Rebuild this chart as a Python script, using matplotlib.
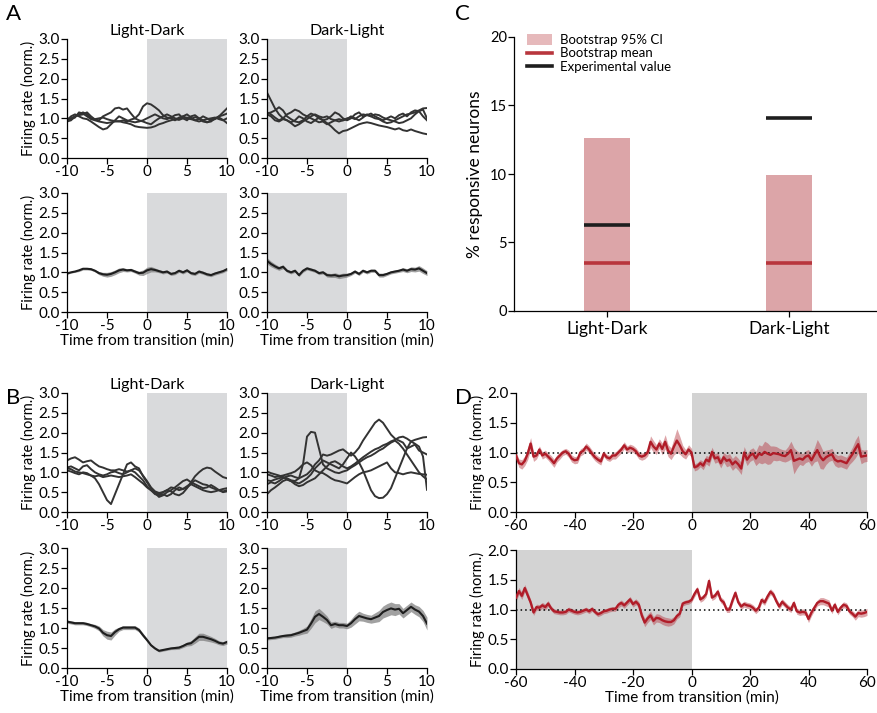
import matplotlib
matplotlib.use("Agg")

import matplotlib.pyplot as plt
import numpy as np
from matplotlib.lines import Line2D
from matplotlib.patches import Patch
from matplotlib.ticker import FormatStrFormatter

plt.rcParams["font.family"] = ["Lato", "DejaVu Sans"]
plt.rcParams["axes.unicode_minus"] = False

# ---------------- data ----------------
t10 = np.arange(-10, 10.01, 0.5)
t60 = np.arange(-60, 61, 1)

# A: single neurons, light-dark (top left)
a_ld_traces = [
    [0.95, 1.00, 1.05, 1.10, 1.15, 1.10, 1.00, 0.98, 1.00, 1.02, 0.98, 0.95, 0.93, 0.92, 0.95, 0.92, 0.97, 1.00, 1.10, 1.30, 1.38,
     1.35, 1.28, 1.20, 1.08, 1.02, 1.00, 0.95, 1.02, 1.05, 1.00, 0.98, 1.03, 1.00, 0.92, 0.90, 0.95, 1.00, 1.02, 0.96, 0.88],
    [0.92, 0.95, 1.05, 1.08, 1.10, 1.15, 1.05, 0.97, 0.95, 1.05, 1.10, 1.15, 1.25, 1.27, 1.22, 1.25, 1.12, 1.00, 0.95, 0.92, 0.88,
     0.85, 0.93, 1.00, 1.05, 1.10, 1.05, 1.00, 0.98, 1.05, 1.10, 1.02, 0.95, 0.98, 1.05, 1.00, 0.95, 0.98, 1.05, 1.15, 1.25],
    [1.00, 0.98, 1.02, 1.15, 1.12, 1.05, 0.98, 0.95, 0.92, 0.90, 0.88, 0.90, 0.92, 0.93, 0.90, 0.88, 0.85, 0.80, 0.78, 0.77, 0.76,
     0.77, 0.80, 0.85, 0.88, 0.92, 0.95, 0.98, 0.96, 1.00, 1.02, 0.98, 0.95, 0.92, 0.95, 0.98, 1.00, 1.02, 0.98, 0.95, 1.00],
    [0.95, 1.05, 1.10, 1.05, 1.00, 0.98, 0.92, 0.85, 0.78, 0.72, 0.75, 0.85, 0.95, 1.05, 1.00, 0.95, 0.92, 0.90, 0.92, 0.95, 1.00,
     1.05, 1.10, 1.05, 1.00, 0.98, 1.02, 1.08, 1.10, 1.00, 0.95, 1.05, 1.08, 1.00, 0.95, 0.90, 0.92, 1.00, 1.05, 1.08, 1.12],
]
# A: single neurons, dark-light (top right)
a_dl_traces = [
    [1.65, 1.45, 1.25, 1.10, 1.00, 0.95, 0.90, 0.95, 1.05, 1.00, 0.92, 0.88, 0.95, 1.02, 0.95, 0.88, 0.80, 0.70, 0.62, 0.68, 0.70,
     0.75, 0.80, 0.85, 0.88, 0.90, 0.88, 0.85, 0.82, 0.80, 0.78, 0.75, 0.72, 0.75, 0.70, 0.68, 0.72, 0.68, 0.65, 0.62, 0.60],
    [1.12, 1.15, 1.20, 1.28, 1.20, 1.05, 0.98, 0.92, 0.90, 0.95, 1.05, 1.12, 1.08, 1.00, 0.95, 0.98, 1.05, 1.15, 1.10, 1.00, 0.95,
     1.00, 1.10, 1.15, 1.05, 1.08, 1.12, 1.05, 1.00, 0.95, 1.00, 1.05, 1.00, 1.08, 1.12, 1.05, 1.15, 1.20, 1.18, 1.05, 0.95],
    [1.15, 1.10, 1.02, 0.95, 1.00, 1.10, 1.15, 1.22, 1.18, 1.10, 1.05, 1.00, 0.95, 0.90, 0.92, 0.85, 0.90, 0.95, 0.98, 0.95, 0.98,
     1.05, 1.00, 0.95, 1.02, 1.10, 1.05, 1.00, 0.98, 0.92, 0.88, 0.90, 0.95, 1.00, 1.05, 1.10, 1.12, 1.15, 1.20, 1.25, 1.26],
    [1.10, 1.05, 0.95, 0.92, 0.98, 0.95, 0.88, 0.80, 0.85, 0.92, 0.98, 1.05, 1.10, 1.05, 1.02, 1.05, 0.98, 0.95, 0.92, 0.95, 1.00,
     1.02, 0.98, 1.05, 1.10, 1.08, 1.05, 1.10, 1.08, 1.02, 0.98, 0.95, 0.92, 0.88, 0.90, 0.95, 1.00, 1.10, 1.18, 1.22, 1.00],
]
# A: population mean +/- sem
a_ld_mean = [0.97, 1.00, 1.02, 1.05, 1.09, 1.09, 1.08, 1.04, 0.98, 0.95, 0.94, 0.96, 1.00, 1.05, 1.07, 1.05, 1.06, 1.02, 0.98,
             0.99, 1.05, 1.08, 1.06, 1.03, 1.00, 1.02, 0.96, 0.98, 1.04, 1.00, 1.05, 0.98, 0.96, 1.02, 0.99, 0.95, 0.93, 0.97,
             1.00, 1.03, 1.08]
a_ld_sem = [0.02, 0.02, 0.02, 0.03, 0.03, 0.03, 0.03, 0.03, 0.04, 0.05, 0.06, 0.06, 0.06, 0.06, 0.05, 0.04, 0.04, 0.04, 0.05,
            0.07, 0.08, 0.07, 0.05, 0.04, 0.04, 0.04, 0.04, 0.04, 0.04, 0.04, 0.04, 0.04, 0.04, 0.04, 0.04, 0.04, 0.04, 0.04,
            0.04, 0.04, 0.04]
a_dl_mean = [1.29, 1.21, 1.15, 1.10, 1.14, 1.04, 1.00, 1.04, 0.93, 1.04, 1.10, 1.07, 1.04, 0.98, 1.00, 0.93, 0.92, 0.93, 0.90,
             0.92, 0.93, 0.96, 1.02, 0.96, 1.04, 1.00, 1.04, 1.04, 0.93, 0.93, 0.96, 1.00, 1.02, 1.04, 1.07, 1.04, 1.08, 1.07,
             1.10, 1.04, 0.98]
a_dl_sem = [0.08, 0.07, 0.06, 0.05, 0.05, 0.04, 0.04, 0.04, 0.04, 0.04, 0.04, 0.04, 0.04, 0.04, 0.04, 0.05, 0.05, 0.06, 0.06,
            0.06, 0.05, 0.04, 0.04, 0.04, 0.04, 0.04, 0.04, 0.04, 0.05, 0.05, 0.04, 0.04, 0.04, 0.04, 0.05, 0.05, 0.06, 0.06,
            0.07, 0.07, 0.06]

# B: single neurons, light-dark
b_ld_traces = [
    [1.10, 1.08, 1.02, 1.00, 0.98, 0.95, 0.92, 0.85, 0.70, 0.50, 0.30, 0.20, 0.45, 0.70, 0.95, 1.20, 1.25, 1.15, 1.10, 0.90, 0.75,
     0.60, 0.48, 0.38, 0.42, 0.50, 0.55, 0.62, 0.70, 0.78, 0.82, 0.75, 0.70, 0.65, 0.60, 0.62, 0.68, 0.62, 0.55, 0.50, 0.52],
    [1.30, 1.35, 1.38, 1.32, 1.25, 1.28, 1.30, 1.22, 1.15, 1.12, 1.08, 1.05, 1.05, 1.08, 1.05, 1.02, 1.05, 1.10, 1.05, 0.92, 0.78,
     0.62, 0.52, 0.48, 0.50, 0.55, 0.52, 0.45, 0.42, 0.48, 0.60, 0.75, 0.90, 1.00, 1.08, 1.12, 1.10, 1.02, 0.95, 0.88, 0.85],
    [1.12, 1.15, 1.10, 1.05, 1.15, 1.18, 1.08, 1.00, 0.95, 0.92, 0.95, 1.00, 1.02, 0.98, 0.95, 1.00, 1.05, 1.00, 0.90, 0.80, 0.65,
     0.55, 0.45, 0.42, 0.45, 0.40, 0.45, 0.55, 0.62, 0.58, 0.62, 0.70, 0.65, 0.60, 0.55, 0.52, 0.50, 0.52, 0.55, 0.58, 0.60],
    [1.05, 1.02, 0.98, 0.95, 1.00, 0.98, 0.92, 0.90, 0.92, 0.88, 0.90, 0.92, 0.90, 0.88, 0.90, 0.92, 0.95, 0.88, 0.80, 0.72, 0.62,
     0.55, 0.48, 0.45, 0.50, 0.55, 0.62, 0.60, 0.55, 0.58, 0.65, 0.72, 0.80, 0.75, 0.70, 0.68, 0.62, 0.58, 0.55, 0.52, 0.55],
]
# B: single neurons, dark-light
b_dl_traces = [
    [0.80, 0.78, 0.82, 0.85, 0.88, 0.85, 0.80, 0.78, 0.85, 1.20, 1.90, 2.02, 2.00, 1.60, 1.20, 1.10, 1.05, 1.00, 0.98, 1.02, 1.05,
     1.12, 1.18, 1.25, 1.32, 1.38, 1.42, 1.48, 1.55, 1.60, 1.68, 1.75, 1.80, 1.72, 1.60, 1.45, 1.30, 1.15, 1.00, 0.90, 0.82],
    [0.70, 0.75, 0.72, 0.78, 0.85, 0.90, 0.92, 0.88, 0.85, 0.90, 0.95, 1.05, 1.20, 1.30, 1.45, 1.42, 1.45, 1.50, 1.55, 1.58, 1.50,
     1.42, 1.50, 1.62, 1.80, 1.95, 2.10, 2.25, 2.33, 2.25, 2.10, 1.95, 1.85, 1.80, 1.75, 1.60, 1.65, 1.70, 1.55, 1.50, 1.45],
    [1.02, 0.98, 0.95, 0.92, 0.88, 0.82, 0.78, 0.75, 0.72, 0.78, 0.85, 0.95, 1.10, 1.20, 1.30, 1.25, 1.20, 1.15, 1.10, 1.20, 1.35,
     1.50, 1.40, 1.25, 1.05, 0.80, 0.55, 0.40, 0.35, 0.36, 0.45, 0.60, 0.85, 1.10, 1.35, 1.60, 1.78, 1.72, 1.65, 1.40, 0.56],
    [0.45, 0.55, 0.62, 0.70, 0.78, 0.82, 0.78, 0.70, 0.65, 0.68, 0.75, 0.80, 0.85, 0.95, 1.05, 1.15, 1.25, 1.28, 1.22, 1.15, 1.10,
     1.15, 1.22, 1.30, 1.38, 1.45, 1.52, 1.58, 1.62, 1.68, 1.72, 1.78, 1.82, 1.88, 1.90, 1.85, 1.78, 1.82, 1.85, 1.88, 1.89],
    [0.95, 0.92, 0.88, 0.90, 0.92, 0.95, 0.98, 1.02, 1.10, 1.20, 1.25, 1.18, 1.05, 1.00, 0.98, 0.92, 0.85, 0.80, 0.78, 0.75, 0.72,
     0.80, 0.88, 0.95, 1.00, 1.02, 1.05, 1.10, 1.15, 1.20, 1.25, 1.10, 1.00, 0.98, 0.95, 0.98, 1.00, 0.98, 0.96, 0.95, 0.94],
]
# B: population mean +/- sem
b_ld_mean = [1.16, 1.14, 1.12, 1.12, 1.12, 1.10, 1.07, 1.04, 0.99, 0.88, 0.82, 0.80, 0.90, 0.97, 1.01, 1.01, 1.01, 1.01, 0.95,
             0.82, 0.70, 0.57, 0.49, 0.43, 0.45, 0.47, 0.49, 0.50, 0.51, 0.55, 0.60, 0.62, 0.70, 0.78, 0.78, 0.75, 0.72, 0.68,
             0.63, 0.61, 0.65]
b_ld_sem = [0.04, 0.04, 0.04, 0.04, 0.04, 0.04, 0.04, 0.05, 0.06, 0.08, 0.10, 0.10, 0.08, 0.05, 0.05, 0.05, 0.05, 0.05, 0.05,
            0.05, 0.04, 0.03, 0.03, 0.03, 0.03, 0.03, 0.03, 0.04, 0.04, 0.04, 0.05, 0.06, 0.08, 0.09, 0.09, 0.08, 0.07, 0.06,
            0.05, 0.05, 0.05]
b_dl_mean = [0.74, 0.75, 0.76, 0.78, 0.80, 0.81, 0.82, 0.85, 0.88, 0.92, 0.96, 1.11, 1.28, 1.35, 1.28, 1.20, 1.07, 1.10, 1.07,
             1.07, 1.05, 1.12, 1.22, 1.30, 1.27, 1.24, 1.22, 1.26, 1.30, 1.40, 1.45, 1.49, 1.46, 1.48, 1.37, 1.45, 1.53, 1.46,
             1.41, 1.30, 1.11]
b_dl_sem = [0.04, 0.04, 0.04, 0.04, 0.04, 0.05, 0.05, 0.05, 0.06, 0.07, 0.09, 0.12, 0.15, 0.14, 0.12, 0.10, 0.08, 0.07, 0.07,
            0.07, 0.07, 0.10, 0.12, 0.12, 0.10, 0.10, 0.10, 0.12, 0.14, 0.15, 0.16, 0.16, 0.15, 0.13, 0.12, 0.12, 0.12, 0.12,
            0.13, 0.14, 0.16]

# C: bootstrap summary
c_groups = ["Light-Dark", "Dark-Light"]
c_ci_top = [12.6, 9.9]
c_boot_mean = [3.5, 3.5]
c_experimental = [6.3, 14.1]

# D: long recordings, 1-min bins
d_ld_mean = [
    0.95, 0.82, 0.80, 0.86, 0.98, 1.15, 0.93, 0.95, 1.05, 0.95,
    0.98, 0.93, 0.88, 0.82, 0.90, 0.95, 1.00, 1.02, 0.98, 0.90,
    0.87, 0.88, 1.00, 1.03, 1.10, 1.05, 0.98, 0.92, 0.88, 0.85,
    0.98, 0.92, 0.90, 0.95, 0.95, 1.00, 1.05, 1.12, 1.05, 1.08,
    1.06, 1.02, 0.95, 0.93, 0.95, 1.00, 1.18, 1.10, 1.05, 1.15,
    1.06, 1.18, 1.03, 0.98, 1.10, 1.20, 1.12, 1.02, 0.97, 1.05,
    1.00,
    0.75, 0.77, 0.82, 0.78, 0.88, 0.85, 1.01, 0.90, 0.92, 0.82,
    0.92, 0.86, 0.88, 0.80, 0.85, 0.80, 0.73, 1.00, 0.88, 0.95,
    0.98, 0.90, 0.98, 0.96, 1.01, 0.98, 0.96, 0.99, 0.98, 0.97,
    0.95, 0.94, 0.98, 1.04, 0.86, 0.88, 0.90, 0.88, 0.93, 0.95,
    0.87, 0.96, 1.04, 0.93, 0.87, 0.92, 0.95, 0.97, 0.88, 0.85,
    0.86, 0.84, 0.82, 0.90, 0.97, 1.06, 1.14, 0.93, 0.94, 0.95,
]
d_ld_sem = [
    0.06, 0.07, 0.08, 0.08, 0.10, 0.10, 0.08, 0.06, 0.06, 0.06,
    0.06, 0.06, 0.07, 0.07, 0.06, 0.06, 0.05, 0.05, 0.06, 0.06,
    0.06, 0.06, 0.06, 0.06, 0.06, 0.06, 0.06, 0.06, 0.06, 0.06,
    0.05, 0.05, 0.05, 0.06, 0.06, 0.06, 0.06, 0.06, 0.06, 0.06,
    0.06, 0.06, 0.06, 0.06, 0.06, 0.06, 0.10, 0.10, 0.08, 0.08,
    0.10, 0.12, 0.10, 0.10, 0.14, 0.20, 0.15, 0.10, 0.08, 0.08,
    0.07,
    0.06, 0.06, 0.06, 0.07, 0.07, 0.08, 0.08, 0.08, 0.08, 0.08,
    0.08, 0.10, 0.10, 0.10, 0.10, 0.10, 0.10, 0.10, 0.10, 0.10,
    0.10, 0.12, 0.15, 0.15, 0.18, 0.18, 0.15, 0.12, 0.12, 0.10,
    0.10, 0.10, 0.12, 0.15, 0.22, 0.15, 0.10, 0.10, 0.10, 0.10,
    0.10, 0.12, 0.18, 0.20, 0.15, 0.12, 0.10, 0.10, 0.10, 0.10,
    0.10, 0.10, 0.10, 0.10, 0.12, 0.15, 0.15, 0.12, 0.10, 0.10,
]
d_dl_mean = [
    1.20, 1.31, 1.23, 1.36, 1.24, 1.12, 0.95, 1.04, 1.03, 1.07,
    1.04, 1.10, 1.02, 0.97, 0.96, 0.95, 0.95, 0.96, 1.00, 0.98,
    0.96, 0.95, 0.96, 0.98, 1.00, 0.97, 1.01, 0.96, 0.92, 0.94,
    0.97, 0.98, 1.00, 1.01, 1.01, 1.08, 1.11, 1.07, 1.12, 1.17,
    1.09, 1.13, 1.08, 0.90, 0.78, 0.85, 0.90, 0.81, 0.86, 0.85,
    0.82, 0.80, 0.79, 0.79, 0.82, 0.89, 0.93, 1.10, 1.12, 1.13,
    1.16,
    1.26, 1.34, 1.17, 1.20, 1.26, 1.48, 1.20, 1.23, 1.30, 1.16,
    1.12, 1.00, 1.00, 1.15, 1.28, 1.12, 1.05, 1.09, 1.07, 1.06,
    1.03, 0.98, 1.03, 1.16, 1.12, 1.22, 1.30, 1.25, 1.14, 1.05,
    1.13, 1.08, 1.03, 1.00, 1.11, 0.97, 0.95, 0.96, 0.95, 0.84,
    0.95, 1.03, 1.11, 1.14, 1.14, 1.12, 1.10, 0.98, 1.08, 0.96,
    1.03, 1.08, 1.06, 0.97, 0.93, 0.88, 0.94, 0.93, 0.94, 0.96,
]
d_dl_sem = [
    0.06, 0.06, 0.06, 0.06, 0.06, 0.05, 0.05, 0.05, 0.05, 0.05,
    0.05, 0.05, 0.04, 0.04, 0.04, 0.04, 0.04, 0.04, 0.04, 0.04,
    0.04, 0.04, 0.04, 0.04, 0.04, 0.04, 0.04, 0.04, 0.04, 0.04,
    0.04, 0.04, 0.04, 0.04, 0.04, 0.05, 0.05, 0.05, 0.05, 0.05,
    0.05, 0.05, 0.05, 0.06, 0.07, 0.07, 0.07, 0.07, 0.07, 0.07,
    0.07, 0.07, 0.07, 0.06, 0.06, 0.05, 0.05, 0.04, 0.04, 0.04,
    0.04,
    0.05, 0.05, 0.05, 0.05, 0.05, 0.06, 0.05, 0.05, 0.05, 0.05,
    0.05, 0.05, 0.05, 0.05, 0.05, 0.05, 0.05, 0.05, 0.05, 0.05,
    0.05, 0.05, 0.05, 0.05, 0.05, 0.05, 0.05, 0.05, 0.05, 0.05,
    0.05, 0.05, 0.05, 0.05, 0.05, 0.05, 0.05, 0.05, 0.05, 0.06,
    0.06, 0.05, 0.05, 0.06, 0.06, 0.06, 0.06, 0.05, 0.05, 0.05,
    0.05, 0.05, 0.05, 0.05, 0.05, 0.06, 0.06, 0.06, 0.06, 0.06,
]

# ---------------- styling ----------------
W, H = 877, 713
SHADE = "#d9dadc"
SHADE_D = "#d3d3d3"
TRACE = "#333333"
RED = "#b01c28"
TICK_FS = 11
LABEL_FS = 10.5


def add_px_axes(fig, x0, y0, x1, y1):
    return fig.add_axes([x0 / W, 1 - y1 / H, (x1 - x0) / W, (y1 - y0) / H])


def style_axes(ax):
    ax.spines["top"].set_visible(False)
    ax.spines["right"].set_visible(False)
    for s in ("left", "bottom"):
        ax.spines[s].set_linewidth(0.9)
    ax.tick_params(direction="out", length=4, width=0.9, labelsize=TICK_FS, pad=1)


def panel10(ax, dark, traces=None, mean=None, sem=None, ylabel=False, xlabel=False):
    span = (0, 10) if dark == "after" else (-10, 0)
    ax.axvspan(*span, ymin=0, ymax=1, color=SHADE, lw=0, zorder=0)
    if traces is not None:
        for tr in traces:
            ax.plot(t10, tr, color=TRACE, lw=1.4, zorder=2)
    if mean is not None:
        m = np.array(mean)
        s = np.array(sem)
        ax.fill_between(t10, m - s, m + s, color="#7a7a7a", alpha=0.7, lw=0, zorder=1)
        ax.plot(t10, m, color="#1e1e1e", lw=1.5, zorder=2)
    ax.set_xlim(-10, 10)
    ax.set_ylim(0, 3)
    ax.set_xticks([-10, -5, 0, 5, 10])
    ax.set_yticks([0, 0.5, 1.0, 1.5, 2.0, 2.5, 3.0])
    ax.yaxis.set_major_formatter(FormatStrFormatter("%.1f"))
    style_axes(ax)
    if ylabel:
        ax.set_ylabel("Firing rate (norm.)", fontsize=LABEL_FS, labelpad=2)
    if xlabel:
        ax.set_xlabel("Time from transition (min)", fontsize=TICK_FS, labelpad=0)


def panel60(ax, mean, sem, dark, xlabel=False):
    span = (0, 60) if dark == "after" else (-60, 0)
    ax.axvspan(*span, color=SHADE_D, lw=0, zorder=0)
    m = np.array(mean)
    s = np.array(sem)
    ax.fill_between(t60, m - s, m + s, color="#b5353f", alpha=0.45, lw=0, zorder=1)
    ax.plot(t60, m, color=RED, lw=1.7, zorder=3)
    ax.axhline(1.0, color="black", ls=(0, (1, 2)), lw=1.1, zorder=2)
    ax.set_xlim(-60, 60)
    ax.set_ylim(0, 2)
    ax.set_xticks([-60, -40, -20, 0, 20, 40, 60])
    ax.set_yticks([0, 0.5, 1.0, 1.5, 2.0])
    ax.yaxis.set_major_formatter(FormatStrFormatter("%.1f"))
    style_axes(ax)
    ax.set_ylabel("Firing rate (norm.)", fontsize=LABEL_FS, labelpad=2)
    if xlabel:
        ax.set_xlabel("Time from transition (min)", fontsize=TICK_FS, labelpad=0)


fig = plt.figure(figsize=(W / 100, H / 100), dpi=100)

# panel A
ax = add_px_axes(fig, 67, 39, 227, 158)
panel10(ax, "after", traces=a_ld_traces, ylabel=True)
ax.set_title("Light-Dark", fontsize=11.5, pad=3)
ax = add_px_axes(fig, 267, 39, 427, 158)
panel10(ax, "before", traces=a_dl_traces)
ax.set_title("Dark-Light", fontsize=11.5, pad=3)
ax = add_px_axes(fig, 67, 193, 227, 312)
panel10(ax, "after", mean=a_ld_mean, sem=a_ld_sem, ylabel=True, xlabel=True)
ax = add_px_axes(fig, 267, 193, 427, 312)
panel10(ax, "before", mean=a_dl_mean, sem=a_dl_sem, xlabel=True)

# panel B
ax = add_px_axes(fig, 67, 393, 227, 512)
panel10(ax, "after", traces=b_ld_traces, ylabel=True)
ax.set_title("Light-Dark", fontsize=11.5, pad=3)
ax = add_px_axes(fig, 267, 393, 427, 512)
panel10(ax, "before", traces=b_dl_traces)
ax.set_title("Dark-Light", fontsize=11.5, pad=3)
ax = add_px_axes(fig, 67, 548, 227, 668)
panel10(ax, "after", mean=b_ld_mean, sem=b_ld_sem, ylabel=True, xlabel=True)
ax = add_px_axes(fig, 267, 548, 427, 668)
panel10(ax, "before", mean=b_dl_mean, sem=b_dl_sem, xlabel=True)

# panel C
ax = add_px_axes(fig, 514, 37, 876, 311)
xpos = np.arange(len(c_groups))
bw = 0.25
ax.bar(xpos, c_ci_top, width=bw, color="#dca5a8", lw=0, zorder=1)
for x, bm, ev in zip(xpos, c_boot_mean, c_experimental):
    ax.plot([x - bw / 2, x + bw / 2], [bm, bm], color="#b8363d", lw=2.6, solid_capstyle="butt", zorder=2)
    ax.plot([x - bw / 2, x + bw / 2], [ev, ev], color="#1e1e1e", lw=2.6, solid_capstyle="butt", zorder=2)
ax.set_xlim(-0.508, 1.475)
ax.set_ylim(0, 20)
ax.set_xticks(xpos)
ax.set_xticklabels(c_groups)
ax.set_yticks([0, 5, 10, 15, 20])
style_axes(ax)
ax.tick_params(axis="x", labelsize=12.5, pad=3)
ax.tick_params(axis="y", labelsize=10.5)
ax.set_ylabel("% responsive neurons", fontsize=12.5, labelpad=5)
handles = [
    Patch(facecolor="#e6b9bb", edgecolor="none"),
    Line2D([], [], color="#b8363d", lw=2.6),
    Line2D([], [], color="#1e1e1e", lw=2.6),
]
ax.legend(handles, ["Bootstrap 95% CI", "Bootstrap mean", "Experimental value"],
          loc="upper left", bbox_to_anchor=(0.02, 1.03), frameon=False, fontsize=9.5,
          handlelength=1.9, handleheight=0.8, labelspacing=0.1, handletextpad=0.6, borderaxespad=0)

# panel D
ax = add_px_axes(fig, 516, 393, 867, 512)
panel60(ax, d_ld_mean, d_ld_sem, "after")
ax = add_px_axes(fig, 516, 550, 867, 669)
panel60(ax, d_dl_mean, d_dl_sem, "before", xlabel=True)

# panel letters
for lab, x, y in [("A", 6, 4), ("B", 6, 388), ("C", 455, 4), ("D", 455, 388)]:
    fig.text(x / W, 1 - y / H, lab, fontsize=16, va="top", ha="left")

fig.savefig("out.png", dpi=100)
plt.close(fig)
